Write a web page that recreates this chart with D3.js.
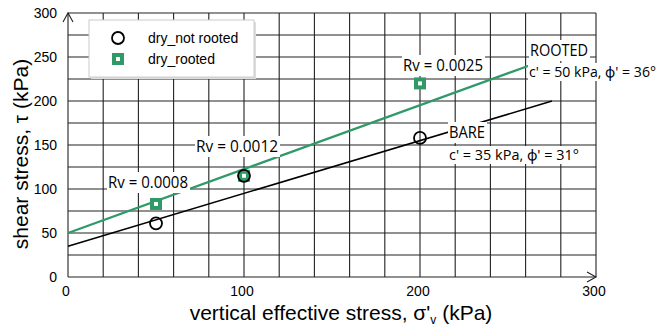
<!DOCTYPE html>
<html>
<head>
<meta charset="utf-8">
<script src="https://cdn.jsdelivr.net/npm/d3@7"></script>
<style>
  body { margin: 0; background: #fff; }
  svg { display: block; }
</style>
</head>
<body>
<svg id="chart" width="665" height="332"></svg>
<script>
var width = 665;
var height = 332;

// data
var sigma = [50, 100, 200];
var notRooted = [61, 115, 158];
var rooted = [83, 115, 220];
var bareLine = [[0, 35], [275, 200]];
var rootedLine = [[0, 50], [263, 241]];
var xTicks = [0, 100, 200, 300];
var yTicks = [0, 50, 100, 150, 200, 250, 300];
var xGrid = d3.range(0, 301, 20);
var yGrid = d3.range(0, 301, 25);
var rvText = ["Rv = 0.0008", "Rv = 0.0012", "Rv = 0.0025"];

var green = "#2f9a68";
var margin = {left: 68, right: 69, top: 13, bottom: 55};

var svg = d3.select("#chart");
var x = d3.scaleLinear().domain([0, 300]).range([margin.left, width - margin.right]);
var y = d3.scaleLinear().domain([0, 300]).range([height - margin.bottom, margin.top]);

// grid
svg.append("g").selectAll("line").data(xGrid).enter().append("line")
  .attr("x1", function(d) { return x(d); }).attr("x2", function(d) { return x(d); })
  .attr("y1", y(0)).attr("y2", y(300))
  .attr("stroke", "#222").attr("stroke-width", 1.1);
svg.append("g").selectAll("line").data(yGrid).enter().append("line")
  .attr("y1", function(d) { return y(d); }).attr("y2", function(d) { return y(d); })
  .attr("x1", x(0)).attr("x2", x(300))
  .attr("stroke", "#222").attr("stroke-width", 1.1);

// arrows on the axes
svg.append("path")
  .attr("d", "M" + (x(0) - 5) + "," + (y(300) + 9) + "L" + x(0) + "," + y(300) + "L" + (x(0) + 5) + "," + (y(300) + 9))
  .attr("fill", "none").attr("stroke", "#222").attr("stroke-width", 1.1);
svg.append("path")
  .attr("d", "M" + (x(300) - 9) + "," + (y(0) - 5) + "L" + x(300) + "," + y(0) + "L" + (x(300) - 9) + "," + (y(0) + 5))
  .attr("fill", "none").attr("stroke", "#222").attr("stroke-width", 1.1);

// tick labels
svg.append("g").selectAll("text").data(xTicks).enter().append("text")
  .attr("x", function(d) { return x(d) - 2; }).attr("y", y(0) + 19)
  .attr("text-anchor", "middle")
  .style("font-family", "Liberation Sans, Arial, sans-serif").style("font-size", "14px")
  .text(function(d) { return d; });
svg.append("g").selectAll("text").data(yTicks).enter().append("text")
  .attr("x", x(0) - 11).attr("y", function(d) { return y(d) + 5; })
  .attr("text-anchor", "end")
  .style("font-family", "Liberation Sans, Arial, sans-serif").style("font-size", "14px")
  .text(function(d) { return d; });

// axis titles
var xt = svg.append("text")
  .attr("x", 341).attr("y", 320)
  .attr("text-anchor", "middle")
  .style("font-family", "Liberation Sans, Arial, sans-serif").style("font-size", "21px");
xt.append("tspan").text("vertical effective stress, \u03c3'");
xt.append("tspan").attr("dy", 4).style("font-size", "12px").text("v");
xt.append("tspan").attr("dy", -4).text(" (kPa)");

svg.append("text")
  .attr("transform", "translate(28,154) rotate(-90)")
  .attr("text-anchor", "middle")
  .style("font-family", "Liberation Sans, Arial, sans-serif").style("font-size", "21px")
  .text("shear stress, \u03c4 (kPa)");

// envelopes
var line = d3.line().x(function(d) { return x(d[0]); }).y(function(d) { return y(d[1]); });
svg.append("path").datum(bareLine).attr("d", line)
  .attr("fill", "none").attr("stroke", "#000").attr("stroke-width", 1.5);
svg.append("path").datum(rootedLine).attr("d", line)
  .attr("fill", "none").attr("stroke", green).attr("stroke-width", 2.2);

// labels with white boxes
function boxedText(tx, ty, str, w, fs) {
  var g = svg.append("g");
  var t = g.append("text")
    .attr("x", tx).attr("y", ty)
    .attr("textLength", w).attr("lengthAdjust", "spacingAndGlyphs")
    .style("font-family", "Open Sans, Noto Sans, sans-serif").style("font-size", (fs || 16) + "px")
    .text(str);
  var b = t.node().getBBox();
  g.insert("rect", "text")
    .attr("x", tx - 1).attr("y", b.y + 1).attr("width", w + 3).attr("height", b.height - 1)
    .attr("fill", "#fff");
}
boxedText(108, 188, rvText[0], 80);
boxedText(196, 152, rvText[1], 82);
boxedText(403, 71, rvText[2], 80);
boxedText(530, 56, "ROOTED", 58);
boxedText(529, 77, "c' = 50 kPa, \u03d5' = 36\u00b0", 127, 14.5);
boxedText(449, 138, "BARE", 36);
boxedText(449, 160, "c' = 35 kPa, \u03d5' = 31\u00b0", 130, 14.5);

// markers
svg.append("g").selectAll("rect").data(sigma).enter().append("rect")
  .attr("x", function(d) { return x(d) - 6; })
  .attr("y", function(d, i) { return y(rooted[i]) - 6; })
  .attr("width", 12).attr("height", 12)
  .attr("fill", green);
svg.append("g").selectAll("rect").data(sigma).enter().append("rect")
  .attr("x", function(d) { return x(d) - 2; })
  .attr("y", function(d, i) { return y(rooted[i]) - 2; })
  .attr("width", 4).attr("height", 4)
  .attr("fill", "#fff");
svg.append("g").selectAll("circle").data(sigma).enter().append("circle")
  .attr("cx", function(d) { return x(d); })
  .attr("cy", function(d, i) { return y(notRooted[i]); })
  .attr("r", 6)
  .attr("fill", "none").attr("stroke", "#000").attr("stroke-width", 1.8);

// legend
var lg = svg.append("g");
lg.append("rect").attr("x", 91).attr("y", 22).attr("width", 165).attr("height", 57).attr("fill", "#ddd");
lg.append("rect").attr("x", 89).attr("y", 20).attr("width", 165).attr("height", 57)
  .attr("fill", "#fff").attr("stroke", "#ccc").attr("stroke-width", 1);
lg.append("circle").attr("cx", 118).attr("cy", 38).attr("r", 6)
  .attr("fill", "none").attr("stroke", "#000").attr("stroke-width", 1.8);
lg.append("rect").attr("x", 112).attr("y", 53).attr("width", 12).attr("height", 12).attr("fill", green);
lg.append("rect").attr("x", 116).attr("y", 57).attr("width", 4).attr("height", 4).attr("fill", "#fff");
lg.append("text").attr("x", 148).attr("y", 43)
  .style("font-family", "Liberation Sans, Arial, sans-serif").style("font-size", "14px")
  .text("dry_not rooted");
lg.append("text").attr("x", 148).attr("y", 64)
  .style("font-family", "Liberation Sans, Arial, sans-serif").style("font-size", "14px")
  .text("dry_rooted");
</script>
</body>
</html>
